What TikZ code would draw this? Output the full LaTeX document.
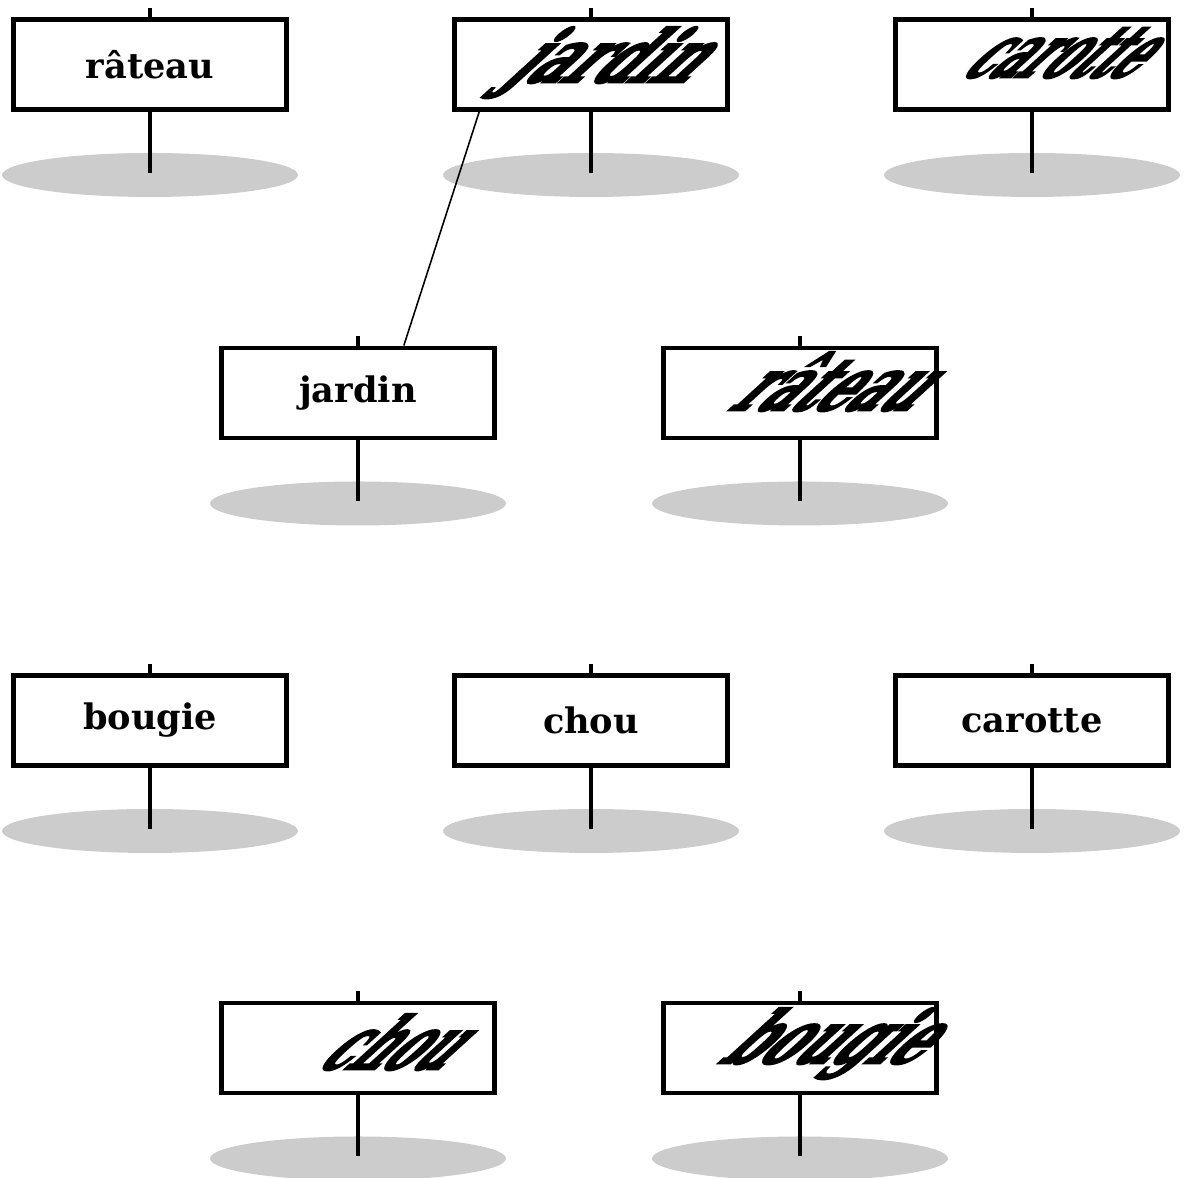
\documentclass[tikz,border=0pt]{standalone}
\usepackage{fontspec}
\setmainfont{DejaVu Serif}
\newfontfamily\epaisse{DejaVu Serif Bold}[FakeBold=4]
\usepackage{tikz}
\usetikzlibrary{shapes.geometric}
\tikzset{
  ombre/.style={ellipse, fill=black!20, draw=none, inner sep=0pt, minimum width=2.96cm, minimum height=0.44cm},
  poteau/.style={line width=1.4pt},
  panneau/.style={draw, line width=1.4pt, fill=white, minimum width=2.73cm, minimum height=0.90cm, inner sep=0pt, font=\bfseries\fontsize{10}{12}\selectfont},
  deforme/.style={cm={#1,0,2.25,2.05,(0,0)}, transform shape, anchor=base west, inner sep=0pt, font=\epaisse\fontsize{10}{12}\selectfont},
  lien/.style={line width=0.45pt}
}
% un panneau : ombre, poteau, cadre
\newcommand{\panneau}[3]{%
  \coordinate (#1c) at (#2);
  \node[ombre] (#1o) at ([yshift=-1.105cm]#1c) {};
  \coordinate (#1h) at ([yshift=0.565cm]#1c);
  \coordinate (#1b) at ([yshift=-1.085cm]#1c);
  \draw[poteau] (#1h) -- (#1b);
  \node[panneau] (#1) at (#1c) {#3};
}

\begin{document}
\begin{tikzpicture}
  \useasboundingbox (0,0) rectangle (11.86,11.78);
  \panneau{rateauA}{1.50,11.135}{râteau}
  \panneau{jardinA}{5.91,11.135}{}
  \panneau{carotteA}{10.32,11.135}{}
  \panneau{jardinB}{3.58,7.85}{jardin}
  \panneau{rateauB}{8.00,7.85}{}
  \panneau{bougieC}{1.50,4.575}{bougie}
  \panneau{chouC}{5.91,4.575}{chou}
  \panneau{carotteC}{10.32,4.575}{carotte}
  \panneau{chouD}{3.58,1.30}{}
  \panneau{bougieD}{8.00,1.30}{}
  % textes deformes
  \node[deforme=1.56] (jardinAt) at ([xshift=-0.90cm,yshift=-0.175cm]jardinA.center) {jardin};
  \node[deforme=1.22] (carotteAt) at ([xshift=-0.74cm,yshift=-0.125cm]carotteA.center) {carotte};
  \node[deforme=1.42] (rateauBt) at ([xshift=-0.74cm,yshift=-0.17cm]rateauB.center) {râteau};
  \node[deforme=1.31] (chouDt) at ([xshift=-0.44cm,yshift=-0.21cm]chouD.center) {chou};
  \node[deforme=1.48] (bougieDt) at ([xshift=-0.84cm,yshift=-0.15cm]bougieD.center) {bougie};
  \draw[lien] (jardinB.46.5) -- (jardinA.203.4);
\end{tikzpicture}
\end{document}
